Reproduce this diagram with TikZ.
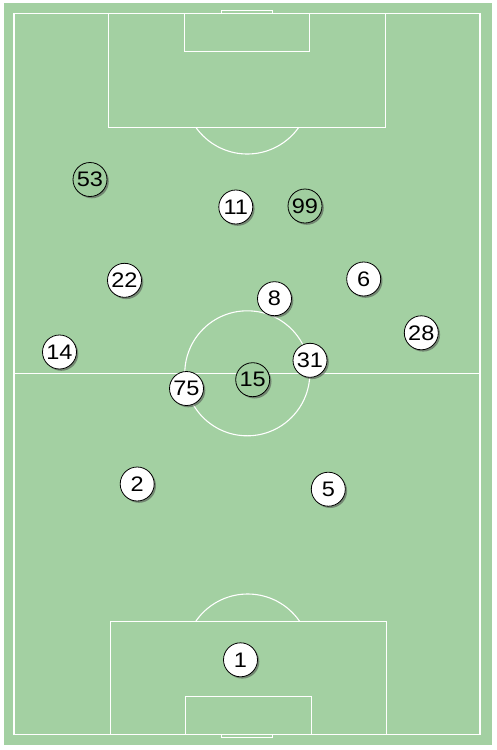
\documentclass[tikz,border=0pt]{standalone}
\usepackage{fontspec}
\setmainfont{Liberation Sans}
\usetikzlibrary{shadows}
\definecolor{pitch}{RGB}{163,208,162}
\definecolor{darkpl}{RGB}{160,206,159}
\begin{document}
\begin{tikzpicture}[x=1pt,y=-1pt,
  line/.style={draw=white,line width=1.1pt},
  player/.style={circle,draw=black,line width=0.8pt,fill=white,minimum size=34pt,inner sep=0pt,
    drop shadow={shadow xshift=1.8pt,shadow yshift=-1.8pt,opacity=0.55,fill=black!70},
    font=\fontsize{21}{21}\selectfont},
  oppo/.style={player,fill=darkpl}]
\useasboundingbox (0,0) rectangle (496,750);
\fill[pitch] (4,3) rectangle (492,745);
% pitch markings
\draw[line] (14,13.3) rectangle (480,734.3);
\draw[line] (14,373.3) -- (480,373.3);
\draw[line] (247.3,373.3) circle (62.5);
% top
\draw[line] (221.5,10.3) rectangle (272.5,13.3);
\draw[line] (184.3,13.3) rectangle (309.3,51.3);
\draw[line] (108.3,13.3) rectangle (385.3,127.3);
\begin{scope}
  \clip (0,127.3) rectangle (496,200);
  \draw[line] (247.3,91) circle (63);
\end{scope}
% bottom
\draw[line] (221.3,734.3) rectangle (272.3,737.3);
\draw[line] (185.3,696.3) rectangle (311.3,734.3);
\draw[line] (110.3,621.3) rectangle (386.3,734.3);
\begin{scope}
  \clip (0,540) rectangle (496,621.3);
  \draw[line] (247.7,657) circle (63);
\end{scope}
% players
\newcommand{\num}[1]{\scalebox{1.12}[1]{#1}}
\node[oppo]   (p53) at (90,179.5)   {\num{53}};
\node[player] (p11) at (235.8,207)  {\num{11}};
\node[oppo]   (p99) at (305,206)    {\num{99}};
\node[player] (p22) at (124.5,280.3) {\num{22}};
\node[player] (p6)  at (363.7,279)  {\num{6}};
\node[player] (p8)  at (274.5,298.7) {\num{8}};
\node[player] (p28) at (421.3,332.8) {\num{28}};
\node[player] (p14) at (59.5,352)   {\num{14}};
\node[player] (p31) at (310,360.3)  {\num{31}};
\node[oppo]   (p15) at (252.7,379.7) {\num{15}};
\node[player] (p75) at (186.5,388.5) {\num{75}};
\node[player] (p2)  at (137.2,484)  {\num{2}};
\node[player] (p5)  at (328.3,489.2) {\num{5}};
\node[player] (p1)  at (240.5,659.8) {\num{1}};
\end{tikzpicture}
\end{document}
